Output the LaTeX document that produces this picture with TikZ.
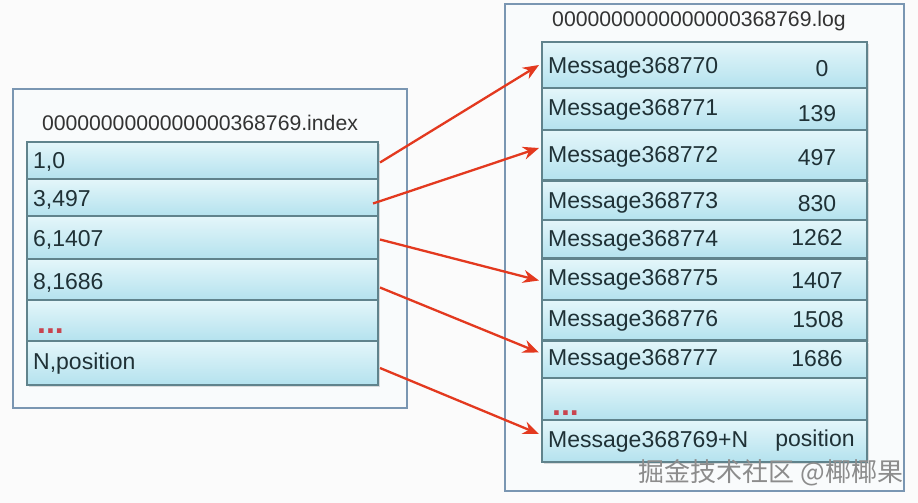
\documentclass[tikz,border=0pt]{standalone}
\usepackage{fontspec}
\setmainfont{Liberation Sans}
\newfontfamily\cjkfont{Noto Sans CJK SC}
\usetikzlibrary{arrows.meta,calc,fit,shadows}
\definecolor{bgcol}{HTML}{FBFBFB}
\definecolor{boxfill}{HTML}{F9FBFC}
\definecolor{rowtop}{HTML}{E4F6FA}
\definecolor{rowbot}{HTML}{B4E2EE}
\definecolor{rowline}{HTML}{60838C}
\definecolor{boxline}{HTML}{7A96B2}
\definecolor{arrowred}{HTML}{E3391F}
\definecolor{txt}{HTML}{1F3136}
\definecolor{dotred}{HTML}{C8444F}
\tikzset{
  outerbox/.style={draw=boxline, line width=1.6pt, fill=boxfill, inner sep=0pt, outer sep=0pt},
  rowbox/.style={draw=rowline, line width=1.1pt, top color=rowtop, bottom color=rowbot, inner sep=0pt, outer sep=0pt,
    drop shadow={shadow xshift=1.5pt, shadow yshift=-2pt, opacity=0.22, fill=black!60}},
  rowtext/.style={inner sep=0pt, anchor=west, text=txt, font=\fontsize{23}{27}\selectfont},
  numtext/.style={inner sep=0pt, text=txt, font=\fontsize{23}{27}\selectfont},
  titletext/.style={inner sep=0pt, text=black!80, font=\fontsize{21.2}{25}\selectfont},
  dots/.style={inner sep=0pt, anchor=west, text=dotred, font=\bfseries\fontsize{32}{36}\selectfont},
  ptr/.style={draw=arrowred, line width=2.3pt, -{Stealth[length=16pt, width=13pt]}}
}
\begin{document}
\begin{tikzpicture}[x=1pt, y=-1pt]
\useasboundingbox (0,0) rectangle (918,503);
\fill[bgcol] (0,0) rectangle (918,503);

% outer boxes
\node[outerbox, fit={(13,89)(407,408)}] (indexbox) {};
\node[outerbox, fit={(505,4)(904,491)}] (logbox) {};

\node[titletext] (indextitle) at (200,123) {0000000000000000368769.index};
\node[titletext] (logtitle) at (699,21) {0000000000000000368769.log};

% index rows
\node[rowbox, fit={(27,142)(378,179)}] (L1) {};
\node[rowbox, fit={(27,179)(378,216)}] (L2) {};
\node[rowbox, fit={(27,216)(378,259)}] (L3) {};
\node[rowbox, fit={(27,259)(378,300)}] (L4) {};
\node[rowbox, fit={(27,300)(378,341)}] (L5) {};
\node[rowbox, fit={(27,341)(378,385)}] (L6) {};

\node[rowtext] (l1t) at (33,162) {1,0};
\node[rowtext] (l2t) at (33,200) {3,497};
\node[rowtext] (l3t) at (33,240) {6,1407};
\node[rowtext] (l4t) at (33,283) {8,1686};
\node[dots] (l5t) at (37,331) {...};
\node[rowtext] (l6t) at (33,364) {N,position};

% log rows
\node[rowbox, fit={(542,42)(867,88)}] (R1) {};
\node[rowbox, fit={(542,88)(867,130)}] (R2) {};
\node[rowbox, fit={(542,130)(867,180)}] (R3) {};
\node[rowbox, fit={(542,181)(867,220)}] (R4) {};
\node[rowbox, fit={(542,220)(867,258)}] (R5) {};
\node[rowbox, fit={(542,259)(867,300)}] (R6) {};
\node[rowbox, fit={(542,300)(867,340)}] (R7) {};
\node[rowbox, fit={(542,341)(867,378)}] (R8) {};
\node[rowbox, fit={(542,378)(867,420)}] (R9) {};
\node[rowbox, fit={(542,420)(867,462)}] (R10) {};

\node[rowtext] (r1t) at (548,68) {Message368770};
\node[rowtext] (r2t) at (548,110) {Message368771};
\node[rowtext] (r3t) at (548,157) {Message368772};
\node[rowtext] (r4t) at (548,203) {Message368773};
\node[rowtext] (r5t) at (548,241) {Message368774};
\node[rowtext] (r6t) at (548,280) {Message368775};
\node[rowtext] (r7t) at (548,321) {Message368776};
\node[rowtext] (r8t) at (548,360) {Message368777};
\node[dots] (r9t) at (552,413) {...};
\node[rowtext] (r10t) at (548,442) {Message368769+N};

\node[numtext] (r1n) at (822,69) {0};
\node[numtext] (r2n) at (817,114) {139};
\node[numtext] (r3n) at (817,158) {497};
\node[numtext] (r4n) at (817,204) {830};
\node[numtext] (r5n) at (817,238) {1262};
\node[numtext] (r6n) at (817,281) {1407};
\node[numtext] (r7n) at (818,320) {1508};
\node[numtext] (r8n) at (817,359) {1686};
\node[numtext] (r10n) at (815,441) {position};

% pointers
\draw[ptr] ($(L1.east)+(2,2)$) -- ($(R1.west)+(-3,0)$);
\draw[ptr] ($(L2.east)+(-5,6)$) -- ($(R3.west)+(-3,-7)$);
\draw[ptr] ($(L3.east)+(2,2)$) -- ($(R6.west)+(-3,1)$);
\draw[ptr] ($(L4.east)+(2,8)$) -- ($(R8.west)+(-3,-7)$);
\draw[ptr] ($(L6.east)+(2,5)$) -- ($(R10.west)+(-3,-7)$);

% watermark
\node[inner sep=0pt, text=black!45, font=\cjkfont\fontsize{26}{30}\selectfont] (wm) at (771,473) {掘金技术社区 @椰椰果};
\end{tikzpicture}
\end{document}
